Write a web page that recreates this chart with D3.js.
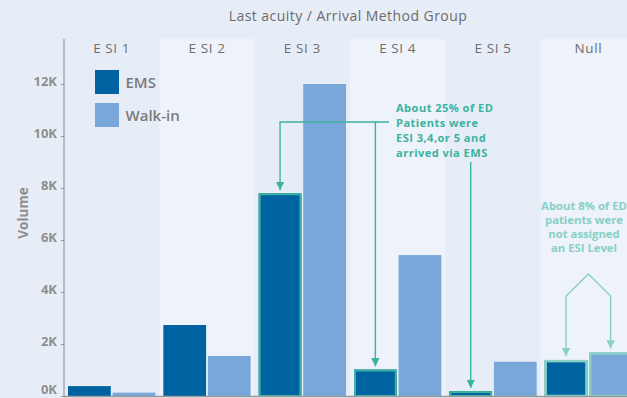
<!DOCTYPE html>
<html><head><meta charset="utf-8">
<script src="https://cdn.jsdelivr.net/npm/d3@7"></script>
<style>
html,body{margin:0;padding:0;background:#e7edf7;}
svg{display:block;font-family:"Open Sans",Lato,sans-serif;}
</style></head>
<body>
<svg id="c" width="627" height="398"></svg>
<script>
const categories = ["E SI 1","E SI 2","E SI 3","E SI 4","E SI 5","Null"];
const series = ["EMS","Walk-in"];
const ems = [380, 2730, 7800, 1020, 190, 1380];
const walkin = [130, 1540, 12000, 5420, 1320, 1670];
const yTicks = [0, 2000, 4000, 6000, 8000, 10000, 12000];
const highlightEMS = ["E SI 3","E SI 4","E SI 5"];
const note1 = ["About 25% of ED","Patients were","ESI 3,4,or 5 and","arrived via EMS"];
const note2 = ["About 8% of ED","patients were","not assigned","an ESI Level"];

(function(){
const svg = d3.select("#c");
const W = 627, H = 398;
const topY = 39, bottomY = 396, leftX = 64;
const colors = {"EMS":"#0063a1","Walk-in":"#7aa7d9"};
const teal = "#3bb3a0", tealLight = "#86d0c5";

const x = d3.scaleBand().domain(categories).range([leftX, 636]).padding(0);
const x1 = d3.scaleBand().domain(series).range([4, x.bandwidth()-4]).paddingInner(0.04);
const y = d3.scaleLinear().domain([0,12000]).range([bottomY, 84]);

svg.append("rect").attr("width",W).attr("height",H).attr("fill","#e7edf7");

svg.selectAll("rect.band").data(categories).join("rect").attr("class","band")
  .attr("x", d=>x(d)).attr("y", topY).attr("width", x.bandwidth()).attr("height", bottomY-topY)
  .attr("fill", (d,i)=> i%2 ? "#eef2fa" : "#e7edf7");

svg.append("text").attr("x", 348).attr("y", 21).attr("text-anchor","middle")
  .attr("font-size", 14).attr("letter-spacing",0.45).attr("fill","#6b6b6b").text("Last acuity / Arrival Method Group");

svg.selectAll("text.hdr").data(categories).join("text").attr("class","hdr")
  .attr("x", d=>x(d)+x.bandwidth()/2).attr("y", 52.5).attr("text-anchor","middle")
  .attr("font-size", 13.5).attr("fill","#6e6e6e").attr("letter-spacing",0.6).text(d=>d);

const data = categories.map((c,i)=>({cat:c, vals:[{s:"EMS",v:ems[i]},{s:"Walk-in",v:walkin[i]}]}));
const g = svg.selectAll("g.cat").data(data).join("g").attr("class","cat").attr("transform", d=>`translate(${x(d.cat)},0)`);
g.selectAll("rect.bar").data(d=>d.vals.map(v=>({...v,cat:d.cat}))).join("rect").attr("class","bar")
  .attr("x", d=>x1(d.s)).attr("y", d=>y(d.v)).attr("width", x1.bandwidth()).attr("height", d=>bottomY-y(d.v))
  .attr("fill", d=>colors[d.s]);
g.selectAll("rect.hl").data(d=>d.vals.map(v=>({...v,cat:d.cat})).filter(v=> (v.s==="EMS" && highlightEMS.includes(v.cat)) || v.cat==="Null"))
  .join("rect").attr("class","hl")
  .attr("x", d=>x1(d.s)+1).attr("y", d=>y(d.v)+1).attr("width", x1.bandwidth()-2).attr("height", d=>bottomY-y(d.v)-1)
  .attr("fill","none").attr("stroke", d=>d.cat==="Null"?tealLight:teal).attr("stroke-width", d=>d.cat==="Null"?2.5:2);

svg.append("line").attr("x1",leftX).attr("x2",leftX).attr("y1",topY).attr("y2",bottomY).attr("stroke","#9a9a9a").attr("stroke-width",1.2);
svg.append("line").attr("x1",leftX).attr("x2",W).attr("y1",bottomY+0.5).attr("y2",bottomY+0.5).attr("stroke","#9a9a9a").attr("stroke-width",1.5);
const yAxis = d3.axisLeft(y).tickValues(yTicks).tickSize(3).tickFormat(d=>(d/1000)+"K");
const ya = svg.append("g").attr("transform",`translate(${leftX},0)`).call(yAxis);
ya.select(".domain").remove();
ya.selectAll("line").attr("stroke","#9a9a9a");
ya.selectAll("text").attr("font-size",13).attr("font-weight","bold").attr("fill","#8e8e8e")
  .attr("font-family","'Open Sans',sans-serif").attr("dx",-1).attr("dy",d=> d===0 ? "-0.16em" : "0.1em");

svg.append("text").attr("transform","translate(28,213) rotate(-90)").attr("text-anchor","middle")
  .attr("font-size",13.5).attr("font-weight","bold").attr("fill","#8e8e8e").text("Volume");

const leg = svg.append("g");
series.forEach((s,i)=>{
  leg.append("rect").attr("x", 95).attr("y", 70+i*33).attr("width",24).attr("height",24).attr("fill",colors[s]);
  leg.append("text").attr("x",125.5).attr("y",87.5+i*33).attr("font-size",15).attr("font-weight",600).attr("fill","#7a7a7a").text(s);
});

const defs = svg.append("defs");
[["arr",teal],["arrL",tealLight]].forEach(([id,c])=>{
  defs.append("marker").attr("id",id).attr("viewBox","0 0 10 10").attr("refX",5).attr("refY",10)
    .attr("markerWidth",6).attr("markerHeight",6).attr("orient","0")
    .append("path").attr("d","M0,0 L10,0 L5,10 Z").attr("fill",c);
});

const cx = (c,s)=> x(c)+x1(s)+x1.bandwidth()/2;
const hy = 122;
const a1 = svg.append("g").attr("fill","none").attr("stroke",teal).attr("stroke-width",1.4);
a1.append("path").attr("d",`M${cx("E SI 3","EMS")},${y(7800)-3} V${hy} H389`).attr("marker-start","url(#arr)");
a1.append("path").attr("d",`M${cx("E SI 4","EMS")},${hy} V${y(1020)-3}`).attr("marker-end","url(#arr)");
a1.append("path").attr("d",`M${cx("E SI 5","EMS")},162 V${y(190)-3}`).attr("marker-end","url(#arr)");

svg.append("g").selectAll("text").data(note1).join("text")
  .attr("x",396).attr("y",(d,i)=>112+i*15).attr("font-size",11.1).attr("letter-spacing",0.45).attr("font-weight","bold")
  .attr("fill",teal).text(d=>d);

const ax = (cx("Null","EMS")+cx("Null","Walk-in"))/2;
const a2 = svg.append("g").attr("fill","none").attr("stroke",tealLight).attr("stroke-width",1.4);
a2.append("path").attr("d",`M${cx("Null","EMS")},${y(1380)-4} V296 L${ax},274 L${cx("Null","Walk-in")},296 V${y(1670)-4}`)
  .attr("marker-start","url(#arrL)").attr("marker-end","url(#arrL)");

svg.append("g").selectAll("text").data(note2).join("text")
  .attr("x",584).attr("y",(d,i)=>210+i*14).attr("text-anchor","middle").attr("font-size",11.3).attr("font-weight","bold")
  .attr("fill",tealLight).text(d=>d);
})();
</script>
</body></html>
